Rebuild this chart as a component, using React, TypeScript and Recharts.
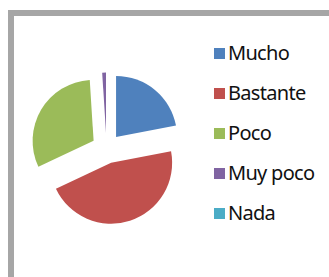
import React from "react";
import { PieChart, Pie, Cell, Legend } from "recharts";

const categories = ["Mucho", "Bastante", "Poco", "Muy poco", "Nada"];
const values = [22, 46, 31, 1, 0];
const colors = ["#4f81bd", "#c0504d", "#9bbb59", "#8064a2", "#4bacc6"];

const W = 329;
const H = 277;
const CX = 106.5;
const CY = 148.5;
const R = 61;
const EXPLODE = 15;

const total = values.reduce((a, b) => a + b, 0);

const slices = categories.map((name, i) => {
  const before = values.slice(0, i).reduce((a, b) => a + b, 0);
  const startAngle = 90 - (360 * before) / total;
  const endAngle = 90 - (360 * (before + values[i])) / total;
  const mid = ((startAngle + endAngle) / 2) * (Math.PI / 180);
  return {
    name,
    value: values[i],
    color: colors[i],
    startAngle,
    endAngle,
    cx: CX + EXPLODE * Math.cos(mid),
    cy: CY - EXPLODE * Math.sin(mid),
  };
});

const LegendContent = () => (
  <div
    style={{
      fontFamily: "'Noto Sans', sans-serif",
      fontSize: 20,
      letterSpacing: -0.7,
      color: "#111",
    }}
  >
    {categories.map((c, i) => (
      <div
        key={c}
        style={{ display: "flex", alignItems: "center", height: 40, lineHeight: "40px" }}
      >
        <span
          style={{
            display: "inline-block",
            width: 11,
            height: 11,
            background: colors[i],
            marginRight: 3,
          }}
        />
        <span>{c}</span>
      </div>
    ))}
  </div>
);

export default function App() {
  return (
    <div style={{ position: "fixed", left: 0, top: 0, width: W, height: H, background: "#fff" }}>
      <div
        style={{
          position: "absolute",
          left: 8,
          top: 10,
          width: W - 8,
          height: H - 10,
          borderLeft: "6px solid #a6a6a6",
          borderTop: "6px solid #a6a6a6",
          boxSizing: "border-box",
        }}
      />
      <div style={{ position: "absolute", left: 0, top: 0 }}>
        <PieChart width={W} height={H} margin={{ top: 0, right: 0, bottom: 0, left: 0 }}>
          {slices.map((s) =>
            s.value > 0 ? (
              <Pie
                key={s.name}
                data={[{ name: s.name, value: s.value }]}
                dataKey="value"
                nameKey="name"
                cx={s.cx}
                cy={s.cy}
                outerRadius={R}
                innerRadius={0}
                startAngle={s.startAngle}
                endAngle={s.endAngle}
                stroke="none"
                isAnimationActive={false}
                legendType="none"
              >
                <Cell fill={s.color} />
              </Pie>
            ) : null
          )}
          <Legend
            content={<LegendContent />}
            wrapperStyle={{ position: "absolute", left: 214, top: 33, width: 112 }}
          />
        </PieChart>
      </div>
    </div>
  );
}
